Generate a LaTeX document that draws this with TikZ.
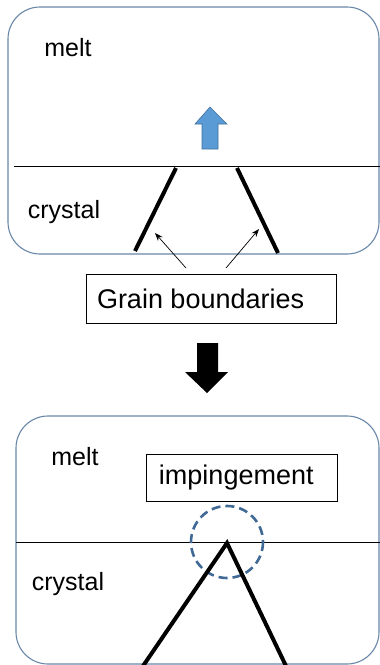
\documentclass[tikz,border=0pt]{standalone}
\usepackage{fontspec}
\setmainfont{Liberation Sans}
\usetikzlibrary{arrows.meta}
\definecolor{framecol}{RGB}{105,135,168}
\definecolor{arrowfill}{RGB}{91,155,213}
\definecolor{arrowline}{RGB}{65,113,156}
\definecolor{dashcol}{RGB}{65,105,150}
\begin{document}
\begin{tikzpicture}[x=1pt,y=-1pt,
  frame/.style={draw=framecol,line width=1.1pt,rounded corners=32pt},
  lbl/.style={inner sep=0pt,font=\fontsize{25}{28}\selectfont},
  tbox/.style={draw=black,line width=0.9pt,inner sep=0pt,font=\fontsize{27}{30}\selectfont},
  gb/.style={line width=4pt},
  thin/.style={line width=0.7pt,-{Stealth[length=8pt,width=6pt]}}]
\useasboundingbox (0,0) rectangle (380,665);
% top panel
\draw[frame] (8,7) rectangle (379,254);
\draw[line width=0.8pt] (14,166) -- (380,166);
\node[lbl] (melt1) at (68,48) {melt};
\node[lbl] (cry1) at (64,212) {crystal};
\draw[fill=arrowfill,draw=arrowline,line width=0.6pt]
  (202,149) -- (202,124) -- (195,124) -- (210,107) -- (227,124) -- (218,124) -- (218,149) -- cycle;
\coordinate (l1a) at (176,168); \coordinate (l1b) at (135,251);
\coordinate (r1a) at (237,168); \coordinate (r1b) at (278,253);
\draw[gb] (l1a) -- (l1b);
\draw[gb] (r1a) -- (r1b);
\node[tbox,minimum height=49pt] (gbox) at (211,298.5) {\makebox[250pt][l]{\hspace{11pt}Grain boundaries}};
\coordinate (s1) at (186,268); \coordinate (e1) at (155,233);
\coordinate (s2) at (226,268); \coordinate (e2) at (259,229);
\draw[thin] (s1) -- (e1);
\draw[thin] (s2) -- (e2);
% black arrow
\fill[black] (197,343) -- (218,343) -- (218,372) -- (228,372) -- (207,393) -- (185,372) -- (197,372) -- cycle;
% bottom panel
\draw[frame] (16,416) rectangle (379,664);
\draw[line width=0.8pt] (16,542) -- (380,542);
\node[lbl] (melt2) at (75,457) {melt};
\node[lbl] (cry2) at (68,584) {crystal};
\node[tbox,minimum height=47pt] (ibox) at (241.5,477.5) {\makebox[191pt][l]{\hspace{13pt}impingement}};
\draw[dashcol,line width=2.6pt,dash pattern=on 9pt off 5pt] (227,542) circle (36);
\coordinate (apex) at (227,543);
\coordinate (bl) at (143,666); \coordinate (br) at (286,666);
\draw[gb,line join=miter] (bl) -- (apex) -- (br);
\end{tikzpicture}
\end{document}
